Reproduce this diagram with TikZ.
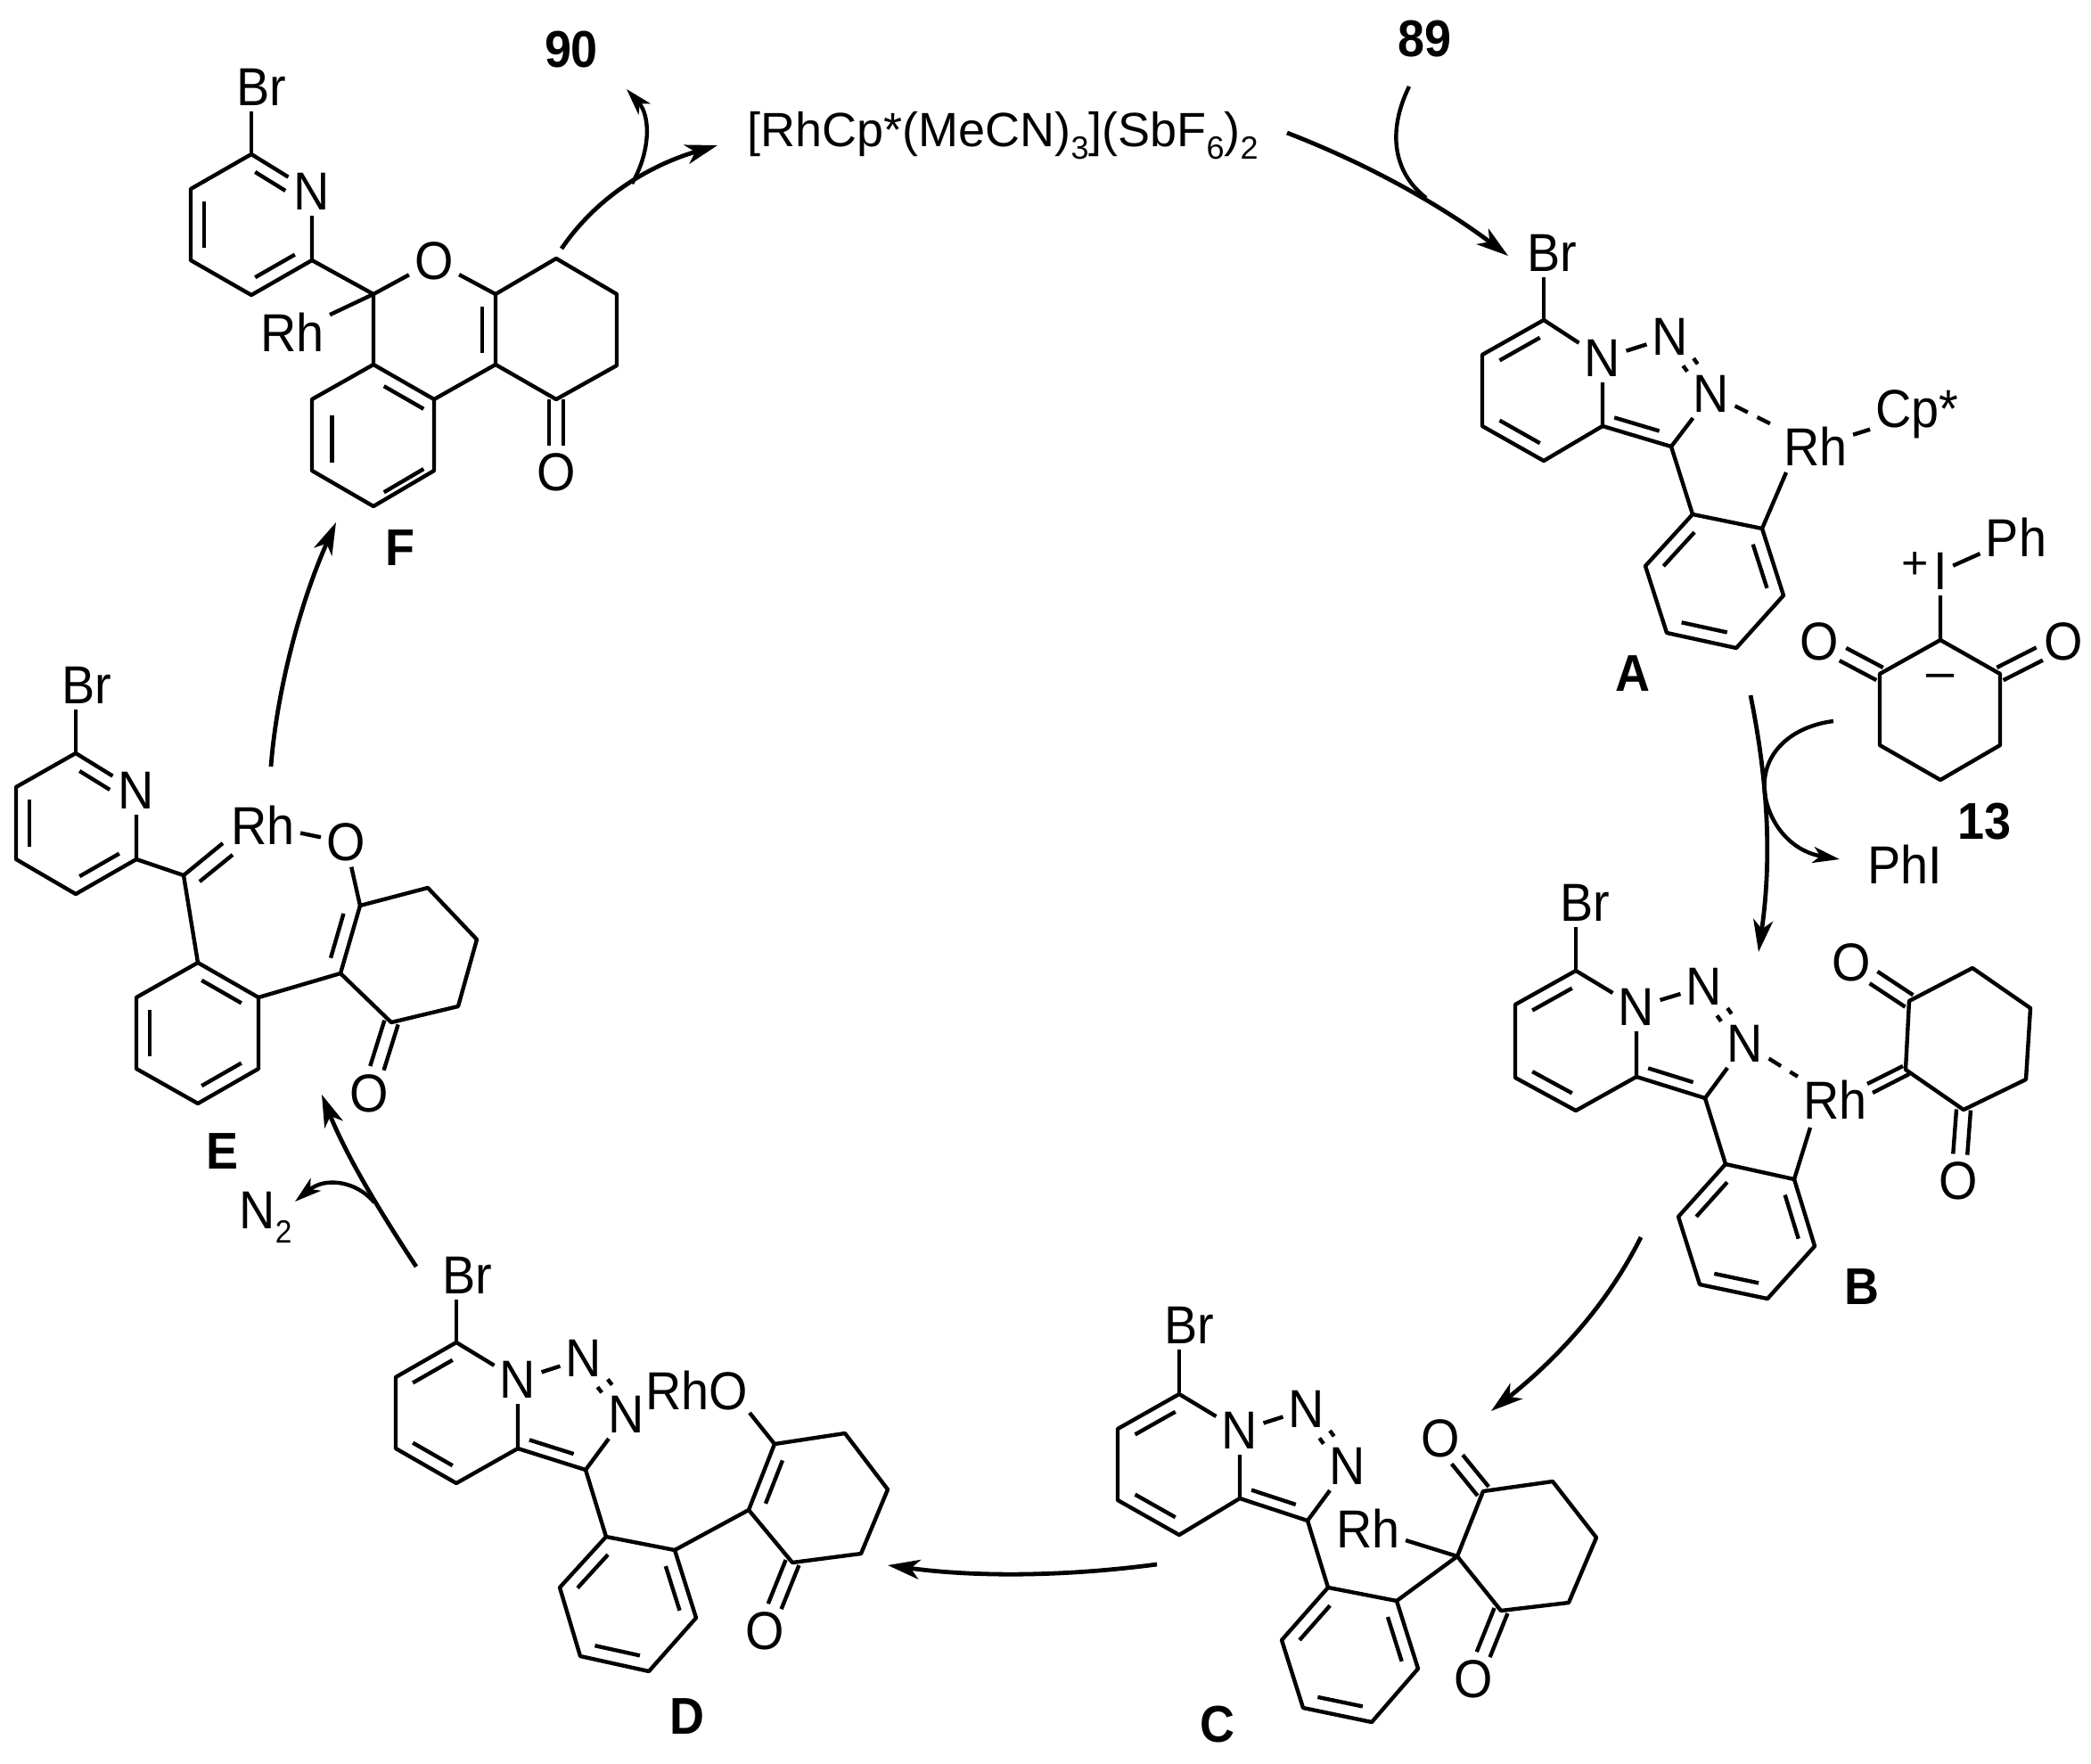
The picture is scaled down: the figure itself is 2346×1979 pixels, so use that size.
\documentclass[tikz,border=0pt]{standalone}
\usepackage{fontspec}
\setmainfont{Liberation Sans}
\newfontfamily\atomf[FakeStretch=.93]{Liberation Sans}
\newfontfamily\catf[FakeStretch=1.0]{Liberation Sans}
\usetikzlibrary{calc,arrows.meta}
\newcommand\ib[3]{\draw[bond] ($(#1)!0.08!(#2)!0.22!(#3)$) -- ($(#1)!0.92!(#2)!0.22!(#3)$);}
\newcommand\cob[2]{\draw[bond,shorten >=15pt] ($(#1)!4pt!90:(#2)$) -- ($(#2)!4pt!-90:(#1)$);\draw[bond,shorten >=15pt] ($(#1)!4pt!-90:(#2)$) -- ($(#2)!4pt!90:(#1)$);}
\newcommand\nnb[2]{\draw[bond] ($($(#1)!.44!(#2)$)!3.6pt!90:(#2)$) -- ($($(#1)!.54!(#2)$)!3.6pt!90:(#2)$);\draw[bond] ($($(#1)!.44!(#2)$)!3.6pt!-90:(#2)$) -- ($($(#1)!.54!(#2)$)!3.6pt!-90:(#2)$);}
\newcommand\sbs[1]{\raisebox{-.27em}{\fontsize{18}{18}\selectfont #1}}
\newcommand\sbc[1]{\raisebox{-.27em}{\fontsize{18}{18}\selectfont #1}}
\tikzset{
 bond/.style={line width=2.2pt,line cap=butt,line join=round},
 dashbond/.style={bond,dash pattern=on 8pt off 6pt},
 atom/.style={inner sep=3pt,font=\atomf\fontsize{30}{32}\selectfont},
 lab/.style={inner sep=0pt,font=\atomf\fontsize{29}{31}\selectfont\bfseries},
 txt/.style={inner sep=0pt,font=\catf\fontsize{27}{30}\selectfont},
 arr/.style={line width=2.4pt,-{Stealth[length=18pt,width=11pt,inset=5pt]}},
 sarr/.style={line width=2.2pt,-{Stealth[length=15pt,width=9pt,inset=4pt]}},
 plain/.style={line width=2.2pt}
}
\begin{document}
\begin{tikzpicture}[x=0.5pt,y=-0.5pt]
\useasboundingbox (0,0) rectangle (2346,1979);
%%% F
\node[atom] (fBr) at (293,98) {Br};
\node[atom] (fN) at (350,215) {N};
\coordinate (f1) at (282,173);\coordinate (f2) at (214,212);\coordinate (f3) at (214,292);\coordinate (f4) at (282,331);\coordinate (f5) at (350,292);
\coordinate (f6) at (419,330);\node[atom] (fO) at (487,293) {O};\coordinate (f7) at (556,330);\coordinate (f8) at (556,409);\coordinate (f9) at (487,448);\coordinate (f10) at (419,409);
\coordinate (f11) at (350,448);\coordinate (f12) at (350,528);\coordinate (f13) at (419,568);\coordinate (f14) at (487,528);
\coordinate (f15) at (624,290);\coordinate (f16) at (692,330);\coordinate (f17) at (692,410);\coordinate (f18) at (624,448);
\node[atom] (fO2) at (624,530) {O};\node[atom] (fRh) at (328,373) {Rh};
\coordinate (fP) at ($(f1)!.5!(f4)$);\coordinate (fQ) at ($(f9)!.5!(f13)$);\coordinate (fR) at ($(fO)!.5!(f9)$);
\draw[bond] (f1 |- fBr.south) -- (f1);
\draw[bond] (fN) -- (f1) -- (f2) -- (f3) -- (f4) -- (f5) -- (fN);
\draw[bond] (f5) -- (f6) -- (fO);\draw[bond] (f6) -- (fRh);\draw[bond] (fO) -- (f7) -- (f8) -- (f9) -- (f10) -- (f6);
\draw[bond] (f10) -- (f11) -- (f12) -- (f13) -- (f14) -- (f9);
\draw[bond] (f7) -- (f15) -- (f16) -- (f17) -- (f18) -- (f8);
\draw[bond] ($(f1)!0.08!(fN)!0.22!(fP)$) -- ($(f1)!0.72!(fN)!0.22!(fP)$);
\ib{f2}{f3}{fP}\ib{f4}{f5}{fP}\ib{f9}{f10}{fQ}\ib{f11}{f12}{fQ}\ib{f13}{f14}{fQ}\ib{f7}{f8}{fR}
\cob{f18}{fO2}
\node[lab] (fL) at (449,615) {F};
\node[lab] (n90) at (641,56) {90};
%%% catalyst
\node[txt] (cat) at (1125,152) {[RhCp*(MeCN)\sbc{3}](SbF\sbc{6})\sbc{2}};
\node[lab] (n89) at (1598,44) {89};
%%% A
\node[atom] (aBr) at (1741,284) {Br};
\coordinate (a1) at (1732,359);\coordinate (a2) at (1663,398);\coordinate (a3) at (1663,478);\coordinate (a4) at (1732,517);\coordinate (a5) at (1798,478);
\node[atom] (aN1) at (1798,402) {N};\node[atom] (aN2) at (1874,378) {N};\node[atom] (aN3) at (1920,442) {N};
\coordinate (a6) at (1875,501);\coordinate (a7) at (1899,577);\coordinate (a8) at (1977,593);\coordinate (a9) at (2001,668);\coordinate (a10) at (1948,727);\coordinate (a11) at (1870,710);\coordinate (a12) at (1846,635);
\node[atom] (aRh) at (2037,501) {Rh};\node[atom] (aCp) at (2151,465) {Cp*};
\coordinate (aRb) at (2004,530);
\coordinate (aP) at ($(a1)!.5!(a4)$);\coordinate (aT) at ($(aN2)!.5!(a5)$);\coordinate (aQ) at ($(a7)!.5!(a10)$);
\draw[bond] (a1 |- aBr.south) -- (a1);
\draw[bond] (aN1) -- (a1) -- (a2) -- (a3) -- (a4) -- (a5) -- (aN1) -- (aN2);
\draw[bond] (a5) -- (a6) -- (aN3);\draw[bond] (a6) -- (a7) -- (a8) -- (a9) -- (a10) -- (a11) -- (a12) -- (a7);
\draw[bond] (a8) -- (aRb);\draw[bond] (aRh) -- (aCp);\draw[dashbond] (aN3) -- (aRh);
\nnb{aN2}{aN3}
\ib{a1}{a2}{aP}\ib{a3}{a4}{aP}\ib{a5}{a6}{aT}\ib{a7}{a12}{aQ}\ib{a8}{a9}{aQ}\ib{a10}{a11}{aQ}
\node[lab] (aL) at (1832,756) {A};
%%% 13
\node[atom] (pI) at (2177,641) {I};\node[atom] (pPh) at (2262,603) {Ph};\node[inner sep=0pt,font=\fontsize{26}{28}\selectfont] (pPlus) at (2149,634) {+};
\coordinate (p1) at (2177,718);\coordinate (p2) at (2109,756);\coordinate (p3) at (2109,836);\coordinate (p4) at (2177,875);\coordinate (p5) at (2244,836);\coordinate (p6) at (2244,756);
\node[atom] (pO1) at (2041,720) {O};\node[atom] (pO2) at (2315,720) {O};
\draw[bond] (pPh) -- (pI) -- (p1);
\draw[bond] (p1) -- (p2) -- (p3) -- (p4) -- (p5) -- (p6) -- cycle;
\cob{p2}{pO1}\cob{p6}{pO2}
\node[inner sep=0pt,font=\fontsize{28}{30}\selectfont] (pMinus) at (2177,764) {–};
\node[lab] (n13) at (2226,922) {13};
\node[atom,inner sep=0pt] (pPhI) at (2137,970) {PhI};
%%% B
\node[atom] (bBr) at (1778,1013) {Br};
\coordinate (b1) at (1768,1089);\coordinate (b2) at (1700,1127);\coordinate (b3) at (1700,1209);\coordinate (b4) at (1768,1246);\coordinate (b5) at (1836,1208);
\node[atom] (bN1) at (1836,1130) {N};\node[atom] (bN2) at (1912,1107) {N};\node[atom] (bN3) at (1958,1171) {N};
\coordinate (b6) at (1913,1232);\coordinate (b7) at (1936,1306);\coordinate (b8) at (2013,1323);\coordinate (b9) at (2036,1398);\coordinate (b10) at (1983,1457);\coordinate (b11) at (1907,1441);\coordinate (b12) at (1883,1365);
\node[atom] (bRh) at (2059,1234) {Rh};\coordinate (bRb) at (2031,1265);
\coordinate (b13) at (2138,1200);\coordinate (b14) at (2142,1123);\coordinate (b15) at (2213,1086);\coordinate (b16) at (2278,1131);\coordinate (b17) at (2273,1211);\coordinate (b18) at (2203,1245);
\node[atom] (bO1) at (2077,1080) {O};\node[atom] (bO2) at (2197,1325) {O};
\coordinate (bR1) at (2095,1216);\coordinate (bR2) at (2135,1196);\coordinate (bR3) at (2101,1226);\coordinate (bR4) at (2142,1205);
\coordinate (bP) at ($(b1)!.5!(b4)$);\coordinate (bT) at ($(bN2)!.5!(b5)$);\coordinate (bQ) at ($(b7)!.5!(b10)$);
\draw[bond] (b1 |- bBr.south) -- (b1);
\draw[bond] (bN1) -- (b1) -- (b2) -- (b3) -- (b4) -- (b5) -- (bN1) -- (bN2);
\draw[bond] (b5) -- (b6) -- (bN3);\draw[bond] (b6) -- (b7) -- (b8) -- (b9) -- (b10) -- (b11) -- (b12) -- (b7);
\draw[bond] (b8) -- (bRb);\draw[dashbond] (bN3) -- (bRh);
\draw[bond] (b13) -- (b14) -- (b15) -- (b16) -- (b17) -- (b18) -- cycle;
\draw[bond] (bR1) -- (bR2);\draw[bond] (bR3) -- (bR4);
\nnb{bN2}{bN3}
\ib{b1}{b2}{bP}\ib{b3}{b4}{bP}\ib{b5}{b6}{bT}\ib{b7}{b12}{bQ}\ib{b8}{b9}{bQ}\ib{b10}{b11}{bQ}
\cob{b14}{bO1}\cob{b18}{bO2}
\node[lab] (bL) at (2089,1444) {B};
%%% C
\node[atom] (cBr) at (1334,1487) {Br};
\coordinate (c1) at (1323,1564);\coordinate (c2) at (1254,1603);\coordinate (c3) at (1254,1683);\coordinate (c4) at (1323,1722);\coordinate (c5) at (1391,1681);
\node[atom] (cN1) at (1391,1605) {N};\node[atom] (cN2) at (1466,1581) {N};\node[atom] (cN3) at (1512,1645) {N};
\coordinate (c6) at (1467,1706);\coordinate (c7) at (1490,1781);\coordinate (c8) at (1567,1796);\coordinate (c9) at (1591,1872);\coordinate (c10) at (1539,1932);\coordinate (c11) at (1462,1916);\coordinate (c12) at (1438,1840);
\coordinate (c13) at (1635,1746);\coordinate (c14) at (1664,1673);\coordinate (c15) at (1742,1662);\coordinate (c16) at (1791,1725);\coordinate (c17) at (1760,1798);\coordinate (c18) at (1684,1807);
\node[atom] (cO1) at (1616,1614) {O};\node[atom] (cO2) at (1653,1884) {O};\node[atom] (cRh) at (1535,1715) {Rh};
\coordinate (cP) at ($(c1)!.5!(c4)$);\coordinate (cT) at ($(cN2)!.5!(c5)$);\coordinate (cQ) at ($(c7)!.5!(c10)$);
\draw[bond] (c1 |- cBr.south) -- (c1);
\draw[bond] (cN1) -- (c1) -- (c2) -- (c3) -- (c4) -- (c5) -- (cN1) -- (cN2);
\draw[bond] (c5) -- (c6) -- (cN3);\draw[bond] (c6) -- (c7) -- (c8) -- (c9) -- (c10) -- (c11) -- (c12) -- (c7);
\draw[bond] (c8) -- (c13) -- (c14) -- (c15) -- (c16) -- (c17) -- (c18) -- (c13) -- (cRh);
\nnb{cN2}{cN3}
\ib{c1}{c2}{cP}\ib{c3}{c4}{cP}\ib{c5}{c6}{cT}\ib{c7}{c12}{cQ}\ib{c8}{c9}{cQ}\ib{c10}{c11}{cQ}
\cob{c14}{cO1}\cob{c18}{cO2}
\node[lab] (cL) at (1366,1935) {C};
%%% D
\node[atom] (dBr) at (524,1431) {Br};
\coordinate (d1) at (512,1506);\coordinate (d2) at (444,1545);\coordinate (d3) at (444,1625);\coordinate (d4) at (512,1664);\coordinate (d5) at (581,1625);
\node[atom] (dN1) at (581,1548) {N};\node[atom] (dN2) at (655,1524) {N};\node[atom] (dN3) at (703,1587) {N};
\coordinate (d6) at (657,1649);\coordinate (d7) at (680,1724);\coordinate (d8) at (757,1739);\coordinate (d9) at (781,1815);\coordinate (d10) at (728,1875);\coordinate (d11) at (651,1858);\coordinate (d12) at (628,1781);
\coordinate (d13) at (840,1694);\coordinate (d14) at (869,1620);\coordinate (d15) at (948,1608);\coordinate (d16) at (996,1671);\coordinate (d17) at (966,1743);\coordinate (d18) at (889,1753);
\node[atom] (dRhO) at (782,1560) {RhO};\node[atom] (dO2) at (858,1830) {O};
\coordinate (dOe) at (841,1585);
\coordinate (dP) at ($(d1)!.5!(d4)$);\coordinate (dT) at ($(dN2)!.5!(d5)$);\coordinate (dQ) at ($(d7)!.5!(d10)$);\coordinate (dR) at ($(d13)!.5!(d16)$);
\draw[bond] (d1 |- dBr.south) -- (d1);
\draw[bond] (dN1) -- (d1) -- (d2) -- (d3) -- (d4) -- (d5) -- (dN1) -- (dN2);
\draw[bond] (d5) -- (d6) -- (dN3);\draw[bond] (d6) -- (d7) -- (d8) -- (d9) -- (d10) -- (d11) -- (d12) -- (d7);
\draw[bond] (d8) -- (d13) -- (d14) -- (d15) -- (d16) -- (d17) -- (d18) -- (d13);
\draw[bond] (d14) -- (dOe);
\nnb{dN2}{dN3}
\ib{d1}{d2}{dP}\ib{d3}{d4}{dP}\ib{d5}{d6}{dT}\ib{d7}{d12}{dQ}\ib{d8}{d9}{dQ}\ib{d10}{d11}{dQ}\ib{d13}{d14}{dR}
\cob{d18}{dO2}
\node[lab] (dL) at (771,1926) {D};
%%% E
\node[atom] (eBr) at (97,769) {Br};\node[atom] (eN) at (153,887) {N};
\coordinate (e1) at (85,845);\coordinate (e2) at (18,883);\coordinate (e3) at (18,964);\coordinate (e4) at (85,1003);\coordinate (e5) at (153,964);
\coordinate (e6) at (206,982);\node[atom] (eRh) at (295,926) {Rh};\node[atom] (eO) at (388,945) {O};
\coordinate (e7) at (222,1080);\coordinate (e8) at (290,1119);\coordinate (e9) at (290,1199);\coordinate (e10) at (222,1238);\coordinate (e11) at (153,1199);\coordinate (e12) at (153,1119);
\coordinate (e13) at (382,1092);\coordinate (e14) at (404,1016);\coordinate (e15) at (480,996);\coordinate (e16) at (535,1054);\coordinate (e17) at (514,1129);\coordinate (e18) at (439,1147);
\node[atom] (eO2) at (414,1227) {O};
\coordinate (eR1) at (250,946);\coordinate (eR2) at (224,989);\coordinate (eR3) at (261,959);
\coordinate (eP) at ($(e1)!.5!(e4)$);\coordinate (eQ) at ($(e7)!.5!(e10)$);\coordinate (eX) at (326,1035);
\draw[bond] (e1 |- eBr.south) -- (e1);
\draw[bond] (eN) -- (e1) -- (e2) -- (e3) -- (e4) -- (e5) -- (eN);
\draw[bond] (e5) -- (e6) -- (e7) -- (e8) -- (e9) -- (e10) -- (e11) -- (e12) -- (e7);
\draw[bond] (e6) -- (eR1);\draw[bond] (eR2) -- (eR3);\draw[bond] (eRh) -- (eO) -- (e14);
\draw[bond] (e8) -- (e13) -- (e14) -- (e15) -- (e16) -- (e17) -- (e18) -- (e13);
\draw[bond] ($(e1)!0.08!(eN)!0.22!(eP)$) -- ($(e1)!0.72!(eN)!0.22!(eP)$);
\ib{e2}{e3}{eP}\ib{e4}{e5}{eP}\ib{e7}{e8}{eQ}\ib{e9}{e10}{eQ}\ib{e11}{e12}{eQ}\ib{e13}{e14}{eX}
\cob{e18}{eO2}
\node[lab] (eL) at (249,1292) {E};
\node[atom,inner sep=0pt] (eN2) at (298,1366) {N\sbs{2}};
%%% arrows
\coordinate (s1) at (1444,149);\coordinate (t1) at (1692,287);
\draw[arr] (s1) .. controls (1550,190) and (1630,240) .. (t1);
\coordinate (s2) at (1581,97);\coordinate (t2) at (1600,222);
\draw[plain] (s2) .. controls (1555,150) and (1565,195) .. (t2);
\coordinate (s3) at (1964,780);\coordinate (t3) at (1973,1068);
\draw[arr] (s3) .. controls (1980,860) and (1990,950) .. (t3);
\coordinate (s4) at (2057,809);\coordinate (m4) at (1980,890);\coordinate (t4) at (2064,964);
\draw[sarr] (s4) .. controls (2010,815) and (1975,845) .. (m4) .. controls (1985,925) and (2010,955) .. (t4);
\coordinate (s5) at (1841,1388);\coordinate (t5) at (1673,1583);
\draw[arr] (s5) .. controls (1800,1470) and (1740,1530) .. (t5);
\coordinate (s6) at (1298,1755);\coordinate (t6) at (996,1756);
\draw[arr] (s6) .. controls (1200,1768) and (1100,1770) .. (t6);
\coordinate (s7) at (467,1421);\coordinate (t7) at (361,1228);
\draw[arr] (s7) .. controls (430,1365) and (390,1300) .. (t7);
\coordinate (s8) at (420,1349);\coordinate (t8) at (331,1348);
\draw[sarr] (s8) .. controls (400,1325) and (365,1320) .. (t8);
\coordinate (s9) at (304,860);\coordinate (t9) at (377,586);
\draw[arr] (s9) .. controls (310,780) and (335,680) .. (t9);
\coordinate (s10) at (630,279);\coordinate (t10) at (805,163);
\draw[arr] (s10) .. controls (670,220) and (730,185) .. (t10);
\coordinate (s11) at (709,206);\coordinate (t11) at (703,100);
\draw[sarr] (s11) .. controls (730,170) and (730,130) .. (t11);
\end{tikzpicture}
\end{document}
